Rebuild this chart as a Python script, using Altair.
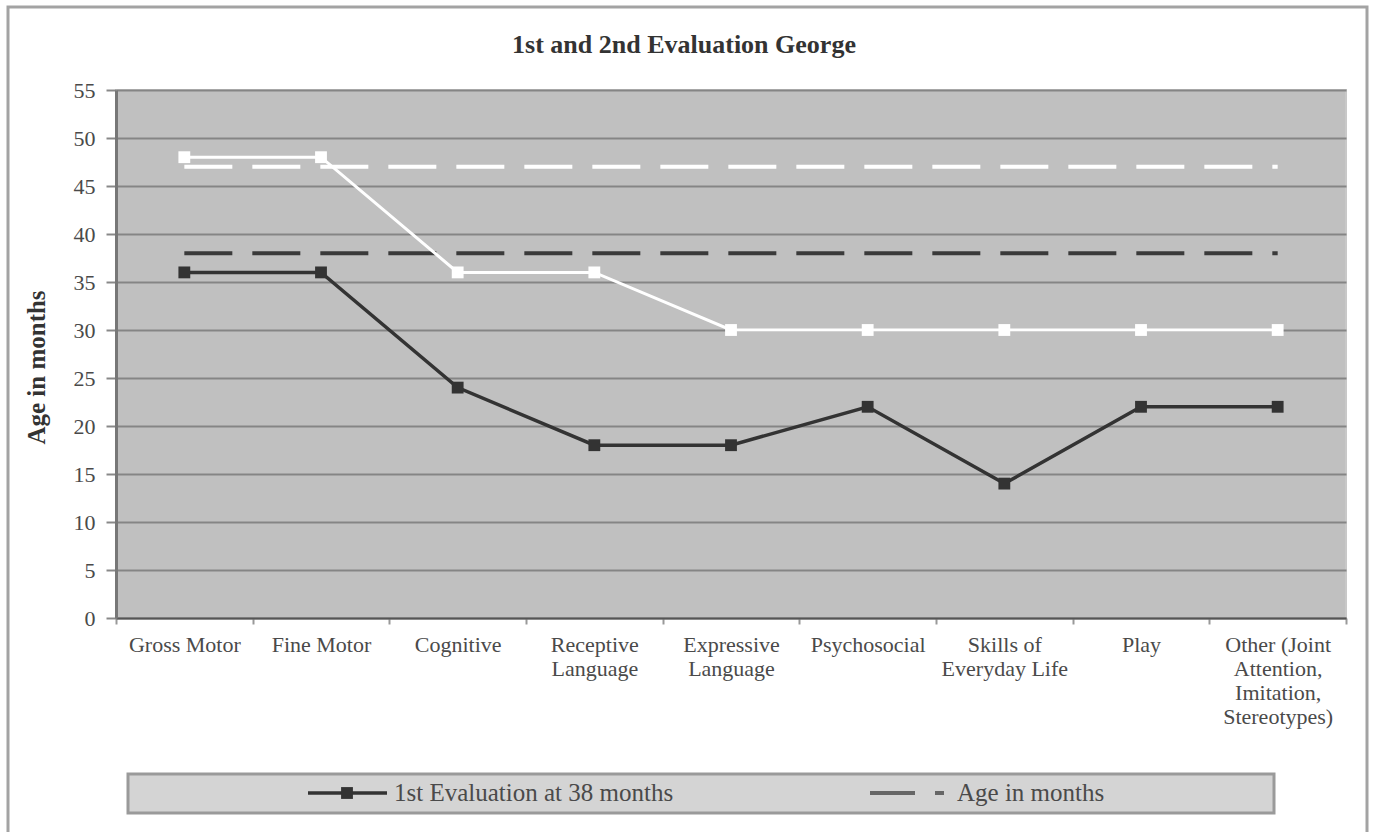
import altair as alt
import pandas as pd

# Developmental areas (a "|" marks a line break in the axis label)
categories = [
    "Gross Motor",
    "Fine Motor",
    "Cognitive",
    "Receptive|Language",
    "Expressive|Language",
    "Psychosocial",
    "Skills of|Everyday Life",
    "Play",
    "Other (Joint|Attention,|Imitation,|Stereotypes)",
]

# Age equivalents (months) per area
first_eval = [36, 36, 24, 18, 18, 22, 14, 22, 22]
second_eval = [48, 48, 36, 36, 30, 30, 30, 30, 30]
age_first = [38, 38, 38, 38, 38, 38, 38, 38, 38]
age_second = [47, 47, 47, 47, 47, 47, 47, 47, 47]

series_names = [
    "1st Evaluation at 38 months",
    "2nd Evaluation",
    "Age in months",
    "Age in months (2nd)",
]
legend_labels = ["1st Evaluation at 38 months", "Age in months"]
title_text = "1st and 2nd Evaluation George"
y_ticks = [0, 5, 10, 15, 20, 25, 30, 35, 40, 45, 50, 55]

rows = []
for name, vals in zip(series_names, [first_eval, second_eval, age_first, age_second]):
    for cat, v in zip(categories, vals):
        rows.append({"category": cat, "series": name, "months": v})
df = pd.DataFrame(rows)

FONT = "Liberation Serif"
TEXT = "#4a4a4a"
W, H = 1230, 528
LEFT, TOP = 116, 90

x_enc = alt.X(
    "category:N",
    sort=categories,
    bandPosition=0.5,
    scale=alt.Scale(type="band", paddingInner=0, paddingOuter=0),
    axis=alt.Axis(
        title=None,
        labelAngle=0,
        labelExpr="split(datum.label, '|')",
        labelFont=FONT,
        labelFontSize=22,
        labelColor=TEXT,
        labelLineHeight=24,
        labelPadding=10,
        labelBaseline="top",
        tickBand="extent",
        tickSize=6,
        tickColor="#999999",
        tickWidth=2,
        domainColor="#555555",
        domainWidth=2,
        grid=False,
    ),
)
y_enc = alt.Y(
    "months:Q",
    scale=alt.Scale(domain=[0, 55], nice=False),
    axis=alt.Axis(
        title="Age in months",
        titleFont=FONT,
        titleFontSize=25,
        titleFontWeight="bold",
        titleColor="#333333",
        titleX=-80,
        titleY=277,
        titleAlign="center",
        titleBaseline="middle",
        values=y_ticks,
        labelFont=FONT,
        labelFontSize=22,
        labelColor=TEXT,
        labelPadding=11,
        tickSize=10,
        tickColor="#888888",
        tickWidth=2,
        domainColor="#777777",
        domainWidth=3,
        grid=True,
        gridColor="#858585",
        gridWidth=2,
    ),
)

base = alt.Chart(df).encode(x=x_enc, y=y_enc)


def series_layer(name, color, dash=None, points=True, width=3):
    mark_kw = dict(color=color, strokeWidth=width)
    if dash is not None:
        mark_kw["strokeDash"] = dash
    if points:
        mark_kw["point"] = alt.OverlayMarkDef(shape="square", size=140, filled=True, color=color, opacity=1)
    return base.transform_filter(alt.datum.series == name).mark_line(**mark_kw)


age2_line = series_layer("Age in months (2nd)", "#ffffff", dash=[48, 20], points=False, width=4)
age1_line = series_layer("Age in months", "#3a3a3a", dash=[48, 20], points=False, width=4)
second_line = series_layer("2nd Evaluation", "#ffffff")
first_line = series_layer("1st Evaluation at 38 months", "#333333", width=3.5)

one = pd.DataFrame({"k": [0]})

# Chart title
title = alt.Chart(one).mark_text(
    text=title_text, font=FONT, fontSize=26, fontWeight="bold", color="#333333",
    align="center", baseline="alphabetic",
).encode(x=alt.value(684 - LEFT), y=alt.value(53 - TOP))

# Outer chart frame
frame = alt.Chart(one).mark_rect(
    fillOpacity=0, stroke="#a3a3a3", strokeWidth=3
).encode(
    x=alt.value(8 - LEFT), x2=alt.value(1367 - LEFT),
    y=alt.value(7 - TOP), y2=alt.value(850 - TOP),
)

# Legend box and entries
legend_box = alt.Chart(one).mark_rect(
    fill="#d4d4d4", stroke="#9a9a9a", strokeWidth=3
).encode(
    x=alt.value(128 - LEFT), x2=alt.value(1274 - LEFT),
    y=alt.value(774 - TOP), y2=alt.value(813 - TOP),
)
ly = 793 - TOP
leg_line1 = alt.Chart(one).mark_rule(color="#333333", strokeWidth=3.5).encode(
    x=alt.value(308 - LEFT), x2=alt.value(387 - LEFT), y=alt.value(ly)
)
leg_pt1 = alt.Chart(one).mark_point(shape="square", size=140, filled=True, color="#333333", opacity=1).encode(
    x=alt.value(347 - LEFT), y=alt.value(ly)
)
leg_line2 = alt.Chart(one).mark_rule(color="#666666", strokeWidth=4, strokeDash=[45, 20]).encode(
    x=alt.value(870 - LEFT), x2=alt.value(944 - LEFT), y=alt.value(ly)
)
leg_text1 = alt.Chart(one).mark_text(
    text=legend_labels[0], font=FONT, fontSize=25, color=TEXT, align="left", baseline="middle"
).encode(x=alt.value(394 - LEFT), y=alt.value(ly))
leg_text2 = alt.Chart(one).mark_text(
    text=legend_labels[1], font=FONT, fontSize=25, color=TEXT, align="left", baseline="middle"
).encode(x=alt.value(957 - LEFT), y=alt.value(ly))

chart = alt.layer(
    age2_line, age1_line, second_line, first_line,
    title, frame, legend_box, leg_line1, leg_pt1, leg_line2, leg_text1, leg_text2,
).properties(
    width=W, height=H,
    autosize=alt.AutoSizeParams(type="none"),
    padding={"left": LEFT, "top": TOP, "right": 1375 - LEFT - W, "bottom": 832 - TOP - H},
    background="#ffffff",
).configure_view(fill="#c0c0c0", stroke="#c8c8c8", strokeWidth=2)

chart.save("out.html", embed_options={"renderer": "svg", "actions": False})
